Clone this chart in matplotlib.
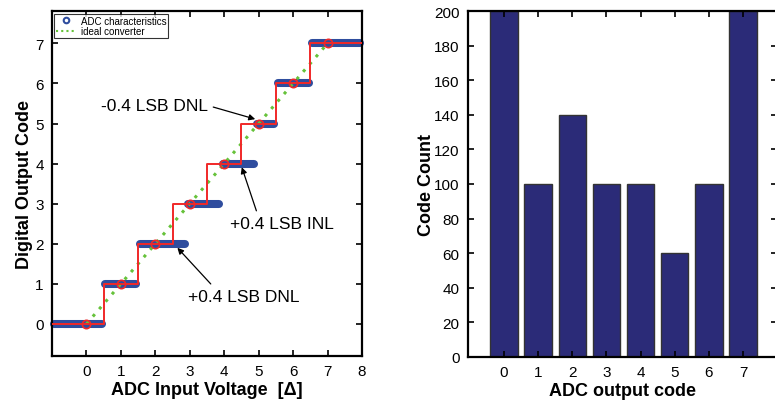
import numpy as np
import matplotlib
matplotlib.use("Agg")
import matplotlib.pyplot as plt
from matplotlib.lines import Line2D

plt.rcParams['font.family'] = ['Liberation Sans', 'DejaVu Sans']

# ADC transfer characteristic (left)
codes = [0, 1, 2, 3, 4, 5, 6, 7]
transitions = [0.5, 1.5, 2.9, 3.9, 4.9, 5.5, 6.5]   # measured code edges [LSB]
vin_min, vin_max = -1, 8
ideal_x = [0, 7]
ideal_y = [0, 7]

# code histogram (right)
hist_codes = [0, 1, 2, 3, 4, 5, 6, 7]
hist_counts = [200, 100, 140, 100, 100, 60, 100, 200]

blue = '#2f4d9e'
red = '#f02828'
green = '#66c23a'

fig = plt.figure(figsize=(7.75, 4.06), dpi=100)

# ---------------- left panel ----------------
ax1 = fig.add_axes([0.0671, 0.1207, 0.4, 0.849])
lo = [vin_min] + transitions
hi = transitions + [vin_max]
for c, a, b in zip(codes, lo, hi):
    ax1.plot([a + 0.05, b - 0.05], [c, c], color=blue, lw=5.8,
             solid_capstyle='round', zorder=2, clip_on=False)

ax1.plot(ideal_x, ideal_y, ls=(0, (1, 2.2)), color=green, lw=2.2, zorder=3)

step_x = [vin_min] + codes + [vin_max]
step_y = [codes[0]] + codes + [codes[-1]]
ax1.step(step_x, step_y, where='mid', color=red, lw=1.4, zorder=4)
ax1.plot(codes, codes, 'o', mfc='none', mec=red, mew=1.2, ms=6, zorder=5)

ax1.set_xlim(vin_min, vin_max)
ax1.set_ylim(-0.8, 7.8)
ax1.set_xticks(range(0, 9))
ax1.set_yticks(range(0, 8))
ax1.set_xlabel('ADC Input Voltage  [\u0394]', fontsize=13, fontweight='bold', labelpad=2)
ax1.set_ylabel('Digital Output Code', fontsize=13, fontweight='bold', labelpad=1.5)

handles = [Line2D([], [], ls='none', marker='o', mfc='none', mec=blue, mew=1.5, ms=4),
           Line2D([], [], ls=(0, (1, 1.5)), color=green, lw=1.5)]
leg = ax1.legend(handles, ['ADC characteristics', 'ideal converter'], loc='upper left',
                 fontsize=7, frameon=True, fancybox=False, borderaxespad=0.25,
                 handlelength=2.0, handletextpad=0.5, borderpad=0.2, labelspacing=0.05)
leg.get_frame().set_edgecolor('black')
leg.get_frame().set_linewidth(0.8)

arrow = dict(arrowstyle='-|>', color='black', lw=0.9, mutation_scale=9, shrinkA=2, shrinkB=0)
ax1.annotate('-0.4 LSB DNL', xy=(4.9, 5.11), xytext=(1.97, 5.45), ha='center', va='center',
             fontsize=12.5, arrowprops=dict(arrow, relpos=(1.0, 0.5)))
ax1.annotate('+0.4 LSB INL', xy=(4.51, 3.91), xytext=(5.68, 2.5), ha='center', va='center',
             fontsize=12.5, arrowprops=dict(arrow, relpos=(0.27, 1.0)))
ax1.annotate('+0.4 LSB DNL', xy=(2.64, 1.9), xytext=(4.58, 0.69), ha='center', va='center',
             fontsize=12.5, arrowprops=dict(arrow, relpos=(0.24, 1.0)))

# ---------------- right panel ----------------
ax2 = fig.add_axes([0.6035, 0.119, 0.3995, 0.8507])
ax2.bar(hist_codes, hist_counts, width=0.8, color='#2b2b78', edgecolor='#333333', lw=1.0)
ax2.set_xlim(-1.06, 8)
ax2.set_ylim(0, 200)
ax2.set_xticks(hist_codes)
ax2.set_yticks(range(0, 201, 20))
ax2.set_xlabel('ADC output code', fontsize=13, fontweight='bold', labelpad=2)
ax2.set_ylabel('Code Count', fontsize=13, fontweight='bold', labelpad=-1)

for ax in (ax1, ax2):
    ax.tick_params(direction='in', length=4, width=1.2, top=True, right=True,
                   labelsize=11, pad=6)
    for s in ax.spines.values():
        s.set_linewidth(1.6)

fig.savefig('out.png', dpi=100)
